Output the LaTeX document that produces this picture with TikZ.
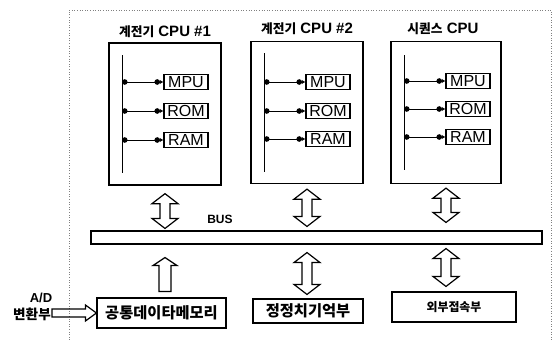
\documentclass[tikz,border=0pt]{standalone}
\usepackage{fontspec}
\setmainfont{Liberation Sans}
\newfontfamily\hangul[Scale=0.85]{Noto Sans CJK KR}
\usetikzlibrary{arrows.meta,calc}

\tikzset{
  cpubox/.style={draw, line width=1.3pt, minimum width=112, minimum height=142},
  title/.style={font=\bfseries\fontsize{15}{17}\selectfont, inner sep=1pt},
  unit/.style={draw, line width=1.1pt, minimum width=44, minimum height=15, inner sep=0pt,
    font=\fontsize{16}{18}\selectfont},
  membox/.style={draw, line width=1.1pt, inner sep=0pt, font=\hangul\bfseries},
  busbar/.style={draw, line width=1.1pt, minimum width=451, minimum height=13, inner sep=0pt},
  link/.style={line width=1pt, {Circle[length=5.5pt]}-{Circle[length=5.5pt] Latex[length=3.5pt,width=4pt]}},
  % hollow block arrows, drawn as outlines between two points
  dualarrow/.style={line width=1.2pt, to path={
    let \p1=(\tikztostart), \p2=(\tikztotarget) in
    (\x1,\y1) -- (\x1+13pt,\y1-10pt) -- (\x1+5pt,\y1-10pt) -- (\x1+5pt,\y2+10pt)
    -- (\x1+13pt,\y2+10pt) -- (\x1,\y2) -- (\x1-13pt,\y2+10pt) -- (\x1-5pt,\y2+10pt)
    -- (\x1-5pt,\y1-10pt) -- (\x1-13pt,\y1-10pt) -- cycle}},
  uparrow/.style={line width=1.2pt, to path={
    let \p1=(\tikztostart), \p2=(\tikztotarget) in
    (\x1-6pt,\y1) -- (\x1-6pt,\y2-8pt) -- (\x1-12pt,\y2-8pt) -- (\x1,\y2)
    -- (\x1+12pt,\y2-8pt) -- (\x1+6pt,\y2-8pt) -- (\x1+6pt,\y1) -- cycle}},
  rightarrow/.style={line width=1.2pt, to path={
    let \p1=(\tikztostart), \p2=(\tikztotarget) in
    (\x1,\y1-4pt) -- (\x2-11pt,\y1-4pt) -- (\x2-11pt,\y1-8pt) -- (\x2,\y1)
    -- (\x2-11pt,\y1+8pt) -- (\x2-11pt,\y1+4pt) -- (\x1,\y1+4pt) -- cycle}}
}

\begin{document}
\begin{tikzpicture}[x=1pt,y=-1pt]
	\useasboundingbox (0,0) rectangle (555,340);
	\draw[dotted, gray, line width=0.6pt] (69,340) -- (69,10) -- (551,10) -- (551,340);
	
	% relay CPUs and the sequence CPU
	\node[title] (tA) at (165,32) {{\hangul 계전기} CPU \#1};
	\node[title] (tB) at (307,29) {{\hangul 계전기} CPU \#2};
	\node[title] (tC) at (443,29) {{\hangul 시퀀스} CPU};
	
	\node[cpubox] (cpuA) at (165,114) {};
	\node[cpubox] (cpuB) at (307,112.5) {};
	\node[cpubox, minimum width=110] (cpuC) at (446,112.5) {};
	
	% first relay CPU
	\coordinate (aTop) at (122,55);
	\coordinate (aBot) at (122,173);
	\node[unit] (aMPU) at (186,82) {MPU};
	\node[unit] (aROM) at (186,111) {ROM};
	\node[unit] (aRAM) at (186,140) {RAM};
	\draw[line width=0.9pt] (aTop) -- (aBot);
	\draw[link] (aMPU.west -| aTop) -- (aMPU.west);
	\draw[link] (aROM.west -| aTop) -- (aROM.west);
	\draw[link] (aRAM.west -| aTop) -- (aRAM.west);
	
	% second relay CPU
	\coordinate (bTop) at (264,53);
	\coordinate (bBot) at (264,172);
	\node[unit] (bMPU) at (328,82) {MPU};
	\node[unit] (bROM) at (328,111) {ROM};
	\node[unit] (bRAM) at (328,139) {RAM};
	\draw[line width=0.9pt] (bTop) -- (bBot);
	\draw[link] (bMPU.west -| bTop) -- (bMPU.west);
	\draw[link] (bROM.west -| bTop) -- (bROM.west);
	\draw[link] (bRAM.west -| bTop) -- (bRAM.west);
	
	% sequence CPU
	\coordinate (cTop) at (404,55);
	\coordinate (cBot) at (404,170);
	\node[unit] (cMPU) at (468,81) {MPU};
	\node[unit] (cROM) at (468,109) {ROM};
	\node[unit] (cRAM) at (468,137) {RAM};
	\draw[line width=0.9pt] (cTop) -- (cBot);
	\draw[link] (cMPU.west -| cTop) -- (cMPU.west);
	\draw[link] (cROM.west -| cTop) -- (cROM.west);
	\draw[link] (cRAM.west -| cTop) -- (cRAM.west);
	
	% system bus
	\node[busbar] (bus) at (316.5,237.5) {};
	\node[font=\bfseries\fontsize{12}{14}\selectfont] (busname) at (220,219) {BUS};
	
	% memories and interface
	\node[membox, minimum width=129, minimum height=30, font=\hangul\bfseries\fontsize{18}{20}\selectfont] (mem) at (161.5,313) {공통데이타메모리};
	\node[membox, minimum width=110, minimum height=24, font=\hangul\bfseries\fontsize{18}{20}\selectfont] (set) at (308,311) {정정치기억부};
	\node[membox, minimum width=124, minimum height=30, font=\hangul\bfseries\fontsize{14}{16}\selectfont] (ext) at (454,307) {외부접속부};
	
	\node[font=\bfseries\fontsize{13}{15}\selectfont, inner sep=0pt] (ad) at (41,298) {A/D};
	\node[font=\hangul\bfseries\fontsize{16}{18}\selectfont, inner sep=1pt] (conv) at (32,314) {변환부};
	
	% bus connections
	\draw[dualarrow] ([yshift=-8pt]cpuA.south) to ([yshift=2pt]cpuA.south |- bus.north);
	\draw[dualarrow] ([yshift=-5pt]cpuB.south) to ([yshift=4pt]cpuB.south |- bus.north);
	\draw[dualarrow] ([yshift=-4pt]cpuC.south) to ([yshift=8pt]cpuC.south |- bus.north);
	
	\draw[uparrow] ([yshift=6pt]cpuA.south |- mem.north) to ([yshift=-13pt]cpuA.south |- bus.south);
	\draw[dualarrow] ([yshift=-8pt]cpuB.south |- bus.south) to ([yshift=4pt]cpuB.south |- set.north);
	\draw[dualarrow] ([yshift=-4pt]cpuC.south |- bus.south) to ([yshift=5pt]cpuC.south |- ext.north);
	
	\draw[rightarrow] (conv.east |- mem.west) to (mem.west);
	
\end{tikzpicture}
\end{document}
